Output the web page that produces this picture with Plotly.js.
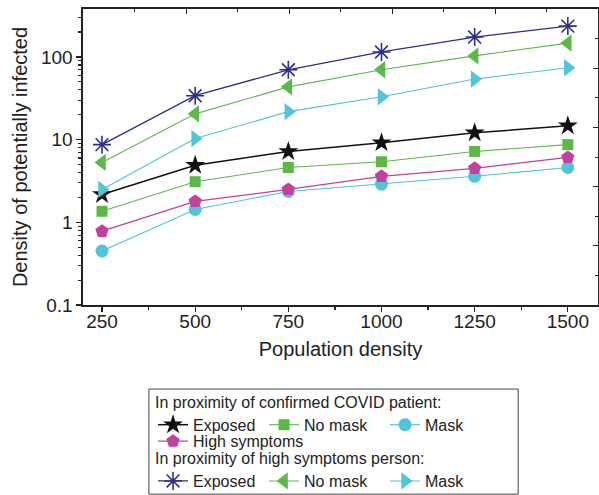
<!DOCTYPE html>
<html>
<head>
<meta charset="utf-8">
<script src="https://cdn.plot.ly/plotly-3.0.1.min.js"></script>
<style>html,body{margin:0;padding:0;background:#fff;}#chart{width:599px;height:495px;}</style>
</head>
<body>
<div id="chart"></div>
<script>
// Data
const popDensity = [250, 500, 750, 1000, 1250, 1500];
// In proximity of confirmed COVID patient
const confExposed = [2.17, 4.9, 7.2, 9.2, 12.1, 14.7];
const confNoMask = [1.36, 3.1, 4.6, 5.4, 7.2, 8.7];
const confMask = [0.45, 1.43, 2.36, 2.9, 3.6, 4.6];
const confHighSymptoms = [0.78, 1.79, 2.5, 3.6, 4.5, 6.1];
// In proximity of high symptoms person
const hsExposed = [8.7, 34, 70, 115, 174, 236];
const hsNoMask = [5.3, 20.5, 43.5, 70, 103, 147];
const hsMask = [2.5, 10.3, 21.8, 33, 54, 74];

const legendTitle1 = "In proximity of confirmed COVID patient:";
const legendTitle2 = "In proximity of high symptoms person:";
const xTickLabels = ["250", "500", "750", "1000", "1250", "1500"];

const NAVY = "#2d2f8c", GREEN = "#5cb947", CYAN = "#52c3d8", MAGENTA = "#c2419c", BLACK = "#111111";

function tr(name, y, color, symbol, size, legend, lw, lwidth, rank, open) {
  return {
    x: popDensity, y: y, name: name, type: "scatter", mode: "lines+markers",
    line: {color: color, width: lw},
    marker: {symbol: symbol, size: size, color: color,
             line: {color: color, width: open ? 1.6 : 0}},
    legend: legend, legendwidth: lwidth, legendrank: rank
  };
}

const data = [
  tr("Mask", confMask, CYAN, "circle", 13, "legend", 1.1, 45, 3),
  tr("High symptoms", confHighSymptoms, MAGENTA, "pentagon", 14, "legend2", 1.3, 120, 1),
  tr("No mask", confNoMask, GREEN, "square", 11, "legend", 1.1, 76, 2),
  tr("Exposed", confExposed, BLACK, "star", 15, "legend", 1.5, 66, 1),
  tr("Mask", hsMask, CYAN, "triangle-right", 15, "legend3", 1.1, 45, 3),
  tr("No mask", hsNoMask, GREEN, "triangle-left", 15, "legend3", 1.1, 76, 2),
  tr("Exposed", hsExposed, NAVY, "asterisk-open", 15, "legend3", 1.3, 66, 1, true),
  {x: [], y: [], xaxis: "x2", yaxis: "y2", showlegend: false, type: "scatter"}
];

const fontFam = "Liberation Sans, Arial, sans-serif";
const txt = "#222";
const legFont = {size: 16, color: txt};

const layout = {
  width: 599, height: 495,
  margin: {l: 83, r: 1, t: 9, b: 190, autoexpand: false},
  paper_bgcolor: "#fff", plot_bgcolor: "#fff",
  font: {family: fontFam, color: txt, size: 19},
  xaxis: {
    range: [199, 1581], tickvals: popDensity, ticktext: xTickLabels,
    ticks: "outside", ticklen: 5, tickwidth: 1.2, tickcolor: "#222",
    ticklabelstandoff: -6,
    minor: {ticks: "outside", ticklen: 3, tickcolor: "#222", dtick: 125, tick0: 125},
    showline: true, linecolor: "#222", linewidth: 1.6,
    showgrid: false, zeroline: false,
    tickfont: {size: 19, color: txt},
    title: {text: "Population density", font: {size: 20, color: txt}, standoff: 10}
  },
  yaxis: {
    type: "log", range: [-1, 2.58], dtick: 1,
    ticks: "outside", ticklen: 5, tickwidth: 1.2, tickcolor: "#222",
    minor: {ticks: "outside", ticklen: 3, tickcolor: "#222", dtick: "D1"},
    showline: true, linecolor: "#222", linewidth: 1.6,
    showgrid: false, zeroline: false,
    tickfont: {size: 19, color: txt},
    title: {text: "Density of potentially infected", font: {size: 20, color: txt}, standoff: 8}
  },
  xaxis2: {
    overlaying: "x", side: "top", anchor: "y", range: [0, 5], dtick: 1,
    ticks: "inside", ticklen: 5, tickcolor: "#222", showticklabels: false,
    minor: {ticks: "inside", ticklen: 3, tickcolor: "#222", dtick: 0.5},
    showline: true, linecolor: "#222", linewidth: 1.6, showgrid: false, zeroline: false
  },
  yaxis2: {
    overlaying: "y", side: "right", anchor: "x", range: [0, 5], dtick: 1,
    ticks: "inside", ticklen: 5, tickcolor: "#222", showticklabels: false,
    minor: {ticks: "inside", ticklen: 3, tickcolor: "#222", dtick: 0.5},
    showline: true, linecolor: "#222", linewidth: 1.6, showgrid: false, zeroline: false
  },
  legend: {
    orientation: "h", x: 0.136, xanchor: "left", y: -0.277, yanchor: "top",
    bgcolor: "rgba(0,0,0,0)", borderwidth: 0, font: legFont,
    title: {text: legendTitle1, side: "top", font: legFont},
    traceorder: "normal"
  },
  legend2: {
    orientation: "h", x: 0.136, xanchor: "left", y: -0.403, yanchor: "top",
    bgcolor: "rgba(0,0,0,0)", borderwidth: 0, font: legFont
  },
  legend3: {
    orientation: "h", x: 0.136, xanchor: "left", y: -0.467, yanchor: "top",
    bgcolor: "rgba(0,0,0,0)", borderwidth: 0, font: legFont,
    title: {text: legendTitle2, side: "top", font: legFont},
    traceorder: "normal"
  },
  shapes: [{
    type: "rect", xref: "paper", yref: "paper",
    x0: 0.128, x1: 0.845, y0: -0.284, y1: -0.639,
    line: {color: "#444", width: 1}, fillcolor: "rgba(0,0,0,0)"
  }],
  showlegend: true
};

Plotly.newPlot("chart", data, layout, {staticPlot: true, displayModeBar: false});
</script>
</body>
</html>
